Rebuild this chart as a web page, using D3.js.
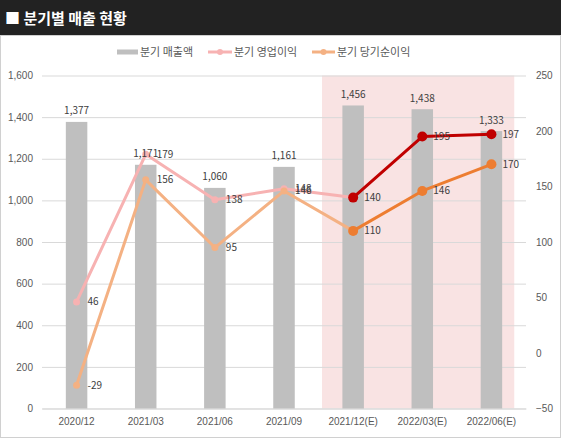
<!DOCTYPE html>
<html><head><meta charset="utf-8">
<script src="https://cdn.jsdelivr.net/npm/d3@7"></script>
<style>
html,body{margin:0;padding:0;background:#fff;}
svg{display:block;font-family:"Noto Sans CJK KR","Noto Sans",sans-serif;}
</style></head>
<body>
<svg id="chart" width="561" height="438"></svg>
<script>
const title = "■ 분기별 매출 현황";
const categories = ["2020/12","2021/03","2021/06","2021/09","2021/12(E)","2022/03(E)","2022/06(E)"];
const seriesNames = ["분기 매출액","분기 영업이익","분기 당기순이익"];
const sales = [1377,1171,1060,1161,1456,1438,1333];
const opProfit = [46,179,138,148,140,195,197];
const netProfit = [-29,156,95,146,110,146,170];
const leftTicks = [0,200,400,600,800,1000,1200,1400,1600];
const rightTicks = [-50,0,50,100,150,200,250];

const svg = d3.select("#chart");
const W = 561, H = 438;
const m = {left:42, right:35, top:75.5, bottom:29.5};
const x0 = m.left, x1 = W - m.right, yTop = m.top, yBot = H - m.bottom;

// title bar
svg.append("rect").attr("x",0).attr("y",0).attr("width",W).attr("height",35).attr("fill","#222222");
svg.append("text").attr("x",5).attr("y",24).attr("fill","#fff").attr("font-size",15).attr("font-weight","bold").text(title);
// chart border
svg.append("rect").attr("x",0.5).attr("y",35.5).attr("width",W-1).attr("height",H-36).attr("fill","#fff").attr("stroke","#d0d0d0");

const x = d3.scaleBand().domain(categories).range([x0,x1]).paddingInner(0).paddingOuter(0);
const bw = x.bandwidth();
const cx = d => x(d) + bw/2;
const yL = d3.scaleLinear().domain([0,1600]).range([yBot,yTop]);
const yR = d3.scaleLinear().domain([-50,250]).range([yBot,yTop]);

// forecast shading
const est = categories.filter(c => c.includes("(E)"));
const estFirst = est[0], estLast = est[est.length-1];
svg.append("rect")
  .attr("x", x(estFirst) + bw*0.05)
  .attr("y", yTop)
  .attr("width", (x(estLast) + bw*0.83) - (x(estFirst) + bw*0.05))
  .attr("height", yBot - yTop)
  .attr("fill","#f9e3e3");

// left axis with gridlines
const gL = svg.append("g").attr("transform",`translate(${x0},0)`)
  .call(d3.axisLeft(yL).tickValues(leftTicks).tickSize(-(x1-x0)).tickPadding(9).tickFormat(d3.format(",")));
gL.select(".domain").remove();
gL.selectAll(".tick line").attr("stroke","#d9d9d9");
gL.selectAll(".tick text").attr("fill","#595959").attr("font-size",10);
gL.selectAll(".tick").filter(d => d===0).select("line").attr("stroke","#d9d9d9");

// right axis
const gR = svg.append("g").attr("transform",`translate(${x1},0)`)
  .call(d3.axisRight(yR).tickValues(rightTicks).tickSize(0).tickPadding(10));
gR.select(".domain").remove();
gR.selectAll(".tick text").attr("fill","#595959").attr("font-size",10);

// x axis
const gX = svg.append("g").attr("transform",`translate(0,${yBot})`)
  .call(d3.axisBottom(x).tickSize(0).tickPadding(9));
gX.select(".domain").attr("stroke","#d9d9d9");
gX.selectAll(".tick text").attr("fill","#595959").attr("font-size",10);

// bars
const barW = 21.5;
svg.append("g").selectAll("rect").data(sales).join("rect")
  .attr("x",(d,i)=>cx(categories[i]) - barW/2)
  .attr("y",d=>yL(d))
  .attr("width",barW)
  .attr("height",d=>yBot - yL(d))
  .attr("fill","#bfbfbf");

// lines
const estIdx = categories.indexOf(estFirst);
function drawSeries(vals, colA, colB, rA, rB){
  const pts = vals.map((v,i)=>[cx(categories[i]), yR(v)]);
  const line = d3.line();
  const a = pts.slice(0, estIdx+1), b = pts.slice(estIdx);
  svg.append("path").attr("d",line(a)).attr("fill","none").attr("stroke",colA).attr("stroke-width",3).attr("stroke-linejoin","round");
  svg.append("g").selectAll("circle").data(pts.slice(0,estIdx)).join("circle")
    .attr("cx",d=>d[0]).attr("cy",d=>d[1]).attr("r",rA).attr("fill",colA);
  svg.append("path").attr("d",line(b)).attr("fill","none").attr("stroke",colB).attr("stroke-width",3).attr("stroke-linejoin","round");
  svg.append("g").selectAll("circle").data(b).join("circle")
    .attr("cx",d=>d[0]).attr("cy",d=>d[1]).attr("r",rB).attr("fill",colB);
  return pts;
}
const ptsOp = drawSeries(opProfit, "#f7b2b2", "#c00000", 3.5, 5);
const ptsNet = drawSeries(netProfit, "#f4b183", "#ed7d31", 3.5, 5);

// labels
const lab = svg.append("g").attr("font-size",10).attr("fill","#404040");
sales.forEach((v,i)=>{
  lab.append("text").attr("x",cx(categories[i])).attr("y",yL(v)-11).attr("dy","0.35em")
    .attr("text-anchor","middle").text(d3.format(",")(v));
});
[[opProfit,ptsOp],[netProfit,ptsNet]].forEach(([vals,pts])=>{
  vals.forEach((v,i)=>{
    lab.append("text").attr("x",pts[i][0]+11).attr("y",pts[i][1]).attr("dy","0.35em").text(v);
  });
});

// legend
const lg = svg.append("g").attr("font-size",11).attr("fill","#595959");
const ly = 52;
lg.append("rect").attr("x",117).attr("y",ly-2.5).attr("width",21).attr("height",5).attr("fill","#bfbfbf");
lg.append("text").attr("x",140).attr("y",ly).attr("dy","0.35em").text(seriesNames[0]);
lg.append("line").attr("x1",208).attr("x2",232).attr("y1",ly).attr("y2",ly).attr("stroke","#f7b2b2").attr("stroke-width",3);
lg.append("circle").attr("cx",220).attr("cy",ly).attr("r",3).attr("fill","#f7b2b2");
lg.append("text").attr("x",234).attr("y",ly).attr("dy","0.35em").text(seriesNames[1]);
lg.append("line").attr("x1",312).attr("x2",335).attr("y1",ly).attr("y2",ly).attr("stroke","#f4b183").attr("stroke-width",3);
lg.append("circle").attr("cx",323.5).attr("cy",ly).attr("r",3).attr("fill","#f4b183");
lg.append("text").attr("x",337).attr("y",ly).attr("dy","0.35em").text(seriesNames[2]);
</script>
</body></html>
